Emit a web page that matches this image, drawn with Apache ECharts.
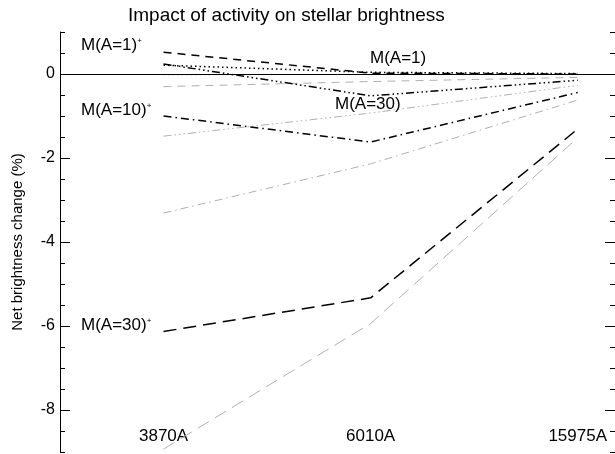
<!DOCTYPE html>
<html>
<head>
<meta charset="utf-8">
<script src="https://cdn.jsdelivr.net/npm/echarts@6/dist/echarts.min.js"></script>
<style>html,body{margin:0;padding:0;background:#fff}#c{width:615px;height:454px}</style>
</head>
<body>
<div id="c"></div>
<script>
// ---- data ----
const categories = ['3870A', '6010A', '15975A'];
const yTickLabels = [-8, -6, -4, -2, 0];

// black series
const mA1plus   = [0.52, 0.02, 0.00];   // dashed, M(A=1)+
const mA1       = [0.21, 0.04, 0.01];   // dotted, M(A=1)
const mA30      = [0.24, -0.52, -0.15]; // dash-dot-dot-dot, M(A=30)
const mA10plus  = [-1.00, -1.62, -0.44];// dash-dot, M(A=10)+
const mA30plus  = [-6.13, -5.33, -1.31];// long dash, M(A=30)+
// grey series
const gDashed   = [-0.30, -0.18, -0.08];
const gDotted   = [-0.02, -0.01, 0.00];
const gDash3Dot = [-1.48, -0.93, -0.27];
const gDashDot  = [-3.31, -2.14, -0.62];
const gLongDash = [-8.93, -5.94, -1.52];

const FONT = 'Liberation Sans, Arial, Helvetica, sans-serif';
const BLACK = '#000000', GREY = '#b0b0b0';
const pts = v => categories.map((c, i) => [i + 1, v[i]]);

const DASH = [8, 6], LONG = [13, 7], DOT = [1.5, 3], DASHDOT = [8, 4, 1.5, 4],
      DASH3DOT = [8, 3, 1.5, 3, 1.5, 3, 1.5, 3];

function ser(name, vals, color, width, dash, extra) {
  return Object.assign({
    name, type: 'line', data: pts(vals), symbol: 'none', silent: true,
    lineStyle: { color, width, type: dash }, z: color === BLACK ? 3 : 2
  }, extra || {});
}

const series = [
  ser('grey dashed', gDashed, GREY, 1, DASH),
  ser('grey dotted', gDotted, GREY, 1, DOT),
  ser('grey dash-dot-dot-dot', gDash3Dot, GREY, 1, DASH3DOT),
  ser('grey dash-dot', gDashDot, GREY, 1, DASHDOT),
  ser('grey long dash', gLongDash, GREY, 1, LONG),
  ser('M(A=1)+', mA1plus, BLACK, 1.5, DASH, {
    markLine: { silent: true, symbol: 'none', label: { show: false },
      lineStyle: { color: BLACK, width: 1, type: 'solid' }, data: [{ yAxis: 0 }] }
  }),
  ser('M(A=1)', mA1, BLACK, 1.5, DOT),
  ser('M(A=30)', mA30, BLACK, 1.5, DASH3DOT),
  ser('M(A=10)+', mA10plus, BLACK, 1.5, DASHDOT),
  ser('M(A=30)+', mA30plus, BLACK, 1.5, LONG)
];

const yBase = { type: 'value', min: -9, max: 1, splitLine: { show: false } };
const tickStyle = { color: BLACK, width: 1 };

const chart = echarts.init(document.getElementById('c'), null, { renderer: 'canvas' });
chart.setOption({
  animation: false,
  backgroundColor: '#fff',
  title: {
    text: 'Impact of activity on stellar brightness', left: 128, top: 6, padding: 0,
    textStyle: { fontFamily: FONT, fontSize: 19, fontWeight: 'normal', color: BLACK }
  },
  grid: { left: 60, right: 0, top: 32, bottom: 2 },
  xAxis: {
    type: 'value', min: 0.5, max: 3.18,
    axisLine: { show: false }, axisTick: { show: false }, splitLine: { show: false },
    axisLabel: {
      inside: true, customValues: [1, 2, 3], margin: 7,
      formatter: v => categories[Math.round(v) - 1],
      fontFamily: FONT, fontSize: 17, color: BLACK
    }
  },
  yAxis: [
    Object.assign({}, yBase, {
      position: 'left', name: 'Net brightness change (%)', nameLocation: 'middle', nameGap: 35,
      nameTextStyle: { fontFamily: FONT, fontSize: 15, color: BLACK },
      axisLine: { show: true, onZero: false, lineStyle: tickStyle },
      axisTick: { show: true, inside: true, length: 10, customValues: yTickLabels, lineStyle: tickStyle },
      axisLabel: { customValues: yTickLabels, fontFamily: FONT, fontSize: 16, color: BLACK, margin: 5 }
    }),
    Object.assign({}, yBase, {
      position: 'left', interval: 0.5,
      axisLine: { show: false }, axisLabel: { show: false },
      axisTick: { show: true, inside: true, length: 5, lineStyle: tickStyle }
    }),
    Object.assign({}, yBase, {
      position: 'right',
      axisLine: { show: false }, axisLabel: { show: false },
      axisTick: { show: true, inside: true, length: 10, customValues: yTickLabels, lineStyle: tickStyle }
    }),
    Object.assign({}, yBase, {
      position: 'right', interval: 0.5,
      axisLine: { show: false }, axisLabel: { show: false },
      axisTick: { show: true, inside: true, length: 5, lineStyle: tickStyle }
    })
  ],
  series,
  graphic: [
    ['{m|M(A=1)}{s|+}', 81, 45],
    ['{m|M(A=10)}{s|+}', 81, 110],
    ['{m|M(A=30)}{s|+}', 81, 325],
    ['{m|M(A=1)}', 370, 58],
    ['{m|M(A=30)}', 335, 104]
  ].map(([t, x, y]) => ({
    type: 'text', x, y, silent: true, z: 10,
    style: {
      text: t, verticalAlign: 'middle', align: 'left',
      rich: {
        m: { fontFamily: FONT, fontSize: 17, fill: BLACK },
        s: { fontFamily: FONT, fontSize: 8, fill: BLACK, verticalAlign: 'top' }
      }
    }
  }))
});
</script>
</body>
</html>
